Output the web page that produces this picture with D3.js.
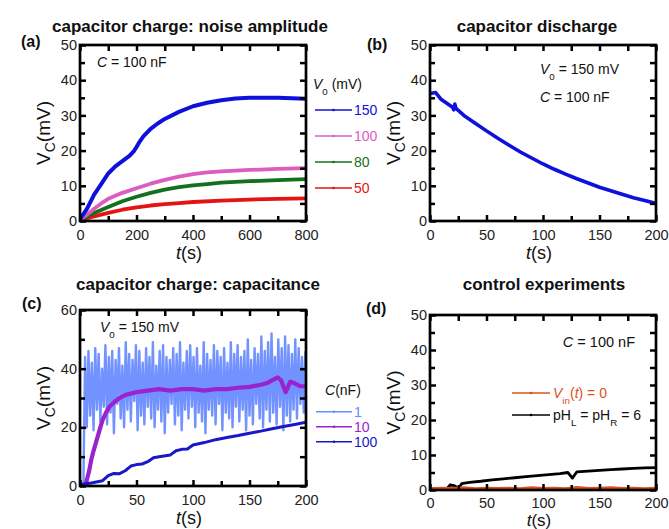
<!DOCTYPE html>
<html><head><meta charset="utf-8">
<script src="https://cdn.jsdelivr.net/npm/d3@7"></script>
<style>
body{margin:0;background:#fff}
svg{font-family:"Liberation Sans",Arial,Helvetica,sans-serif}
</style></head><body>
<svg id="chart" width="669" height="529"></svg>
<script>
// ---------- DATA ----------
// (a) capacitor charge: noise amplitude, C = 100 nF
const aT150 = [0,25,50,75,100,125,150,175,190,200,210,225,250,275,300,350,400,450,500,550,600,650,700,750,800];
const aV150 = [0.5,3.5,7.5,10.5,13.5,15.5,17,18.5,19.8,21,22.4,24.1,26.2,27.7,29,31,32.6,33.6,34.3,34.8,35,35,35,34.9,34.7];
const aT100 = [0,25,50,75,100,150,200,250,300,350,400,450,500,600,700,800];
const aV100 = [0.5,1.8,3.5,5,6.3,8,9.3,10.6,11.7,12.6,13.3,13.8,14.1,14.5,14.8,15];
const aT80  = [0,50,100,150,200,250,300,350,400,450,500,600,700,800];
const aV80  = [0.3,2.3,4,5.6,6.9,8,8.9,9.6,10.1,10.5,10.9,11.3,11.6,11.9];
const aT50  = [0,50,100,150,200,250,300,350,400,500,600,700,800];
const aV50  = [0.3,1.3,2.3,3.2,3.9,4.4,4.8,5.1,5.4,5.8,6.1,6.3,6.4];
const aLegend = ["150","100","80","50"];

// (b) capacitor discharge
const bT = [0,5,10,20,21,22,23,30,40,50,60,70,80,90,100,110,120,130,140,150,160,170,180,190,200];
const bV = [36.2,36.5,34.5,32.3,31.6,33.2,32.0,30,27.8,25.6,23.5,21.5,19.6,17.9,16.2,14.7,13.3,12,10.8,9.6,8.6,7.6,6.6,5.8,5.0];

// (c) capacitor charge: capacitance, V0 = 150 mV
const cStep1 = 1.5; // sampling interval (s) of the 1 nF trace
const cV1 = [0,0,0,44,20,46,24,42,19,47,26,45,
  22,40,27,48,21,44,25,46,18,43,
  28,47,23,41,20,49,26,45,22,43,
  29,48,19,46,24,42,21,47,27,44,
  23,49,20,41,26,46,22,48,18,44,
  25,43,28,47,21,45,24,49,19,42,
  26,46,23,48,27,44,20,47,25,41,
  22,49,18,45,26,43,24,48,21,46,
  28,44,19,47,25,42,23,49,20,45,
  27,48,22,44,26,46,19,50,24,43,
  21,47,28,45,23,51,20,46,26,49,
  22,52,25,44,21,50,27,47,19,51,
  24,48,22,45,26,50,23,47,28,44,
  25,46];
const cT10 = [0,3,5,8,10,12,15,18,20,23,26,30,35,40,50,60,70,80,90,100,110,120,130,140,150,160,165,170,175,178,182,186,190,195,200];
const cV10 = [0,0,0.5,5,9,12,16,20,22.5,25,27,28.5,30,31,32,32.5,33,32.5,33,33,32.5,33,33,33.5,33.8,34.5,35,36,37,36,32,35.5,35,34,34];
const cT100 = [0,10,20,25,30,35,40,45,50,55,60,65,70,80,85,90,95,100,110,120,130,140,150,160,170,180,190,200];
const cV100 = [0.5,1,1.8,3.5,4.3,4.2,5.2,6.8,7.3,7.5,8.3,9.6,10,10.6,12,12.5,12.6,14,14.8,15.8,16.5,17.2,18,18.7,19.5,20.3,21,21.7];
const cLegend = ["1","10","100"];

// (d) control experiments
const dTblack = [0,10,15,18,22,25,28,35,45,55,65,75,85,95,105,115,122,126,130,140,150,160,170,180,190,200];
const dVblack = [0.3,0.3,0.4,1.5,1.2,0.3,1.8,2.2,2.5,2.9,3.2,3.5,3.8,4.1,4.4,4.7,5,3.4,5.2,5.4,5.6,5.8,6,6.2,6.3,6.4];
const dTorange = [0,10,20,30,40,50,60,70,80,90,100,110,120,130,140,150,160,170,180,190,200];
const dVorange = [0.3,0.5,0.4,0.6,0.3,0.5,0.4,0.5,0.3,0.6,0.4,0.5,0.3,0.7,0.4,0.5,0.6,0.4,0.5,0.3,0.5];

// ---------- DRAWING ----------
const svg = d3.select("#chart");
const FONT = '"Liberation Sans",Arial,Helvetica,sans-serif';
let clipId = 0;

function zip(t, v){ return t.map((d,i)=>[d, v[i]]); }

function panel(cfg){
  const x = d3.scaleLinear().domain(cfg.xd).range([cfg.l, cfg.r]);
  const y = d3.scaleLinear().domain(cfg.yd).range([cfg.b, cfg.t]);
  const g = svg.append("g");
  const id = "clip" + (clipId++);
  g.append("clipPath").attr("id", id).append("rect")
    .attr("x", cfg.l).attr("y", cfg.t).attr("width", cfg.r-cfg.l).attr("height", cfg.b-cfg.t);
  const dg = g.append("g").attr("clip-path", `url(#${id})`);
  const line = d3.line().x(d=>x(d[0])).y(d=>y(d[1]));
  cfg.series.forEach(s=>{
    dg.append("path").datum(s.data).attr("d", line)
      .attr("fill","none").attr("stroke", s.color).attr("stroke-width", s.w)
      .attr("stroke-opacity", s.op || 1).attr("stroke-linejoin","round");
  });
  const TS = 6;
  function style(sel, labels){
    sel.select(".domain").remove();
    sel.selectAll(".tick line").attr("stroke","#000").attr("stroke-width",2.5);
    sel.attr("font-family", FONT).attr("font-size", 14.5);
    sel.selectAll(".tick text").attr("fill","#222");
    if(!labels) sel.selectAll(".tick text").remove();
  }
  // bottom
  g.append("g").attr("transform",`translate(0,${cfg.b})`)
    .call(d3.axisBottom(x).tickValues(cfg.xMaj).tickSize(-TS).tickPadding(cfg.xPad||9).tickFormat(d3.format("d")))
    .call(s=>style(s,true));
  g.append("g").attr("transform",`translate(0,${cfg.b})`)
    .call(d3.axisBottom(x).tickValues(cfg.xMin).tickSize(-TS+1).tickFormat(""))
    .call(s=>style(s,false));
  // top
  g.append("g").attr("transform",`translate(0,${cfg.t})`)
    .call(d3.axisTop(x).tickValues(cfg.xMaj.concat(cfg.xMin)).tickSize(-TS).tickFormat(""))
    .call(s=>style(s,false));
  // left
  g.append("g").attr("transform",`translate(${cfg.l},0)`)
    .call(d3.axisLeft(y).tickValues(cfg.yMaj).tickSize(-TS).tickPadding(3).tickFormat(d3.format("d")))
    .call(s=>style(s,true));
  g.append("g").attr("transform",`translate(${cfg.l},0)`)
    .call(d3.axisLeft(y).tickValues(cfg.yMin).tickSize(-TS+1).tickFormat(""))
    .call(s=>style(s,false));
  // right
  g.append("g").attr("transform",`translate(${cfg.r},0)`)
    .call(d3.axisRight(y).tickValues(cfg.yMaj.concat(cfg.yMin)).tickSize(-TS).tickFormat(""))
    .call(s=>style(s,false));
  // frame
  g.append("rect").attr("x",cfg.l).attr("y",cfg.t).attr("width",cfg.r-cfg.l).attr("height",cfg.b-cfg.t)
    .attr("fill","none").attr("stroke","#000").attr("stroke-width",2.7);

  // title
  svg.append("text").attr("x", cfg.titleX).attr("y", cfg.titleY).attr("text-anchor","middle")
    .attr("font-size",17).attr("font-weight","bold").attr("fill","#111").text(cfg.title);
  svg.append("text").attr("x", cfg.labX).attr("y", cfg.labY)
    .attr("font-size",16).attr("font-weight","bold").attr("fill","#111").text(cfg.lab);
  // y label
  const yl = svg.append("text").attr("transform",`translate(${cfg.l-30},${(cfg.t+cfg.b)/2}) rotate(-90)`)
    .attr("text-anchor","middle").attr("font-size",19).attr("fill","#111");
  yl.append("tspan").text("V");
  yl.append("tspan").attr("font-size",14).attr("dy",5).text("C");
  yl.append("tspan").attr("dy",-5).text("(mV)");
  // x label
  const xl = svg.append("text").attr("x",(cfg.l+cfg.r)/2-4).attr("y",cfg.xlY)
    .attr("text-anchor","middle").attr("font-size",cfg.xlSize||18).attr("fill","#111");
  xl.append("tspan").attr("font-style","italic").text("t");
  xl.append("tspan").text("(s)");
  return {x,y};
}

function subText(x, y, parts, opts){
  const t = svg.append("text").attr("x",x).attr("y",y).attr("font-size",opts.size||14)
    .attr("fill",opts.color||"#111");
  if(opts.anchor) t.attr("text-anchor",opts.anchor);
  let cur = 0;
  parts.forEach(p=>{
    const ts = t.append("tspan").text(p.s);
    if(p.i) ts.attr("font-style","italic");
    const target = p.sub ? 6 : 0;
    if(target!==cur){ ts.attr("dy", target-cur); cur = target; }
    if(p.sub) ts.attr("font-size",(opts.size||14)*0.7);
  });
  return t;
}

function legendItem(x1, x2, y, color, label, lx){
  svg.append("line").attr("x1",x1).attr("x2",x2).attr("y1",y).attr("y2",y)
    .attr("stroke",color).attr("stroke-width",1.5);
  svg.append("circle").attr("cx",(x1+x2)/2).attr("cy",y).attr("r",1.3).attr("fill",color);
  if(label!==null) svg.append("text").attr("x",lx).attr("y",y).attr("dy","0.35em")
    .attr("font-size",14).attr("fill",color).text(label);
}

const COL = {b150:"#1010dc", p100:"#dd5cbf", g80:"#13701f", r50:"#e41414",
  lb:"#6a8cff", pu:"#9a22cf", db:"#1818c8", or:"#e0501c", bk:"#000"};

// Panel (a)
panel({l:80,r:306,t:45,b:221,xd:[0,800],yd:[0,50],
  xMaj:[0,200,400,600,800],xMin:[100,300,500,700],
  yMaj:[0,10,20,30,40,50],yMin:[5,15,25,35,45],
  title:"capacitor charge: noise amplitude",titleX:190,titleY:32,lab:"(a)",labX:21,labY:47,xlY:259,
  series:[
    {data:zip(aT50,aV50),color:COL.r50,w:3.8},
    {data:zip(aT80,aV80),color:COL.g80,w:3.8},
    {data:zip(aT100,aV100),color:COL.p100,w:3.8},
    {data:zip(aT150,aV150),color:COL.b150,w:4}
  ]});
subText(97,67,[{s:"C",i:true},{s:" = 100 nF"}],{size:14});
subText(313,89,[{s:"V",i:true},{s:"0",sub:true},{s:" (mV)"}],{size:14});
[COL.b150,COL.p100,COL.g80,COL.r50].forEach((c,i)=>{
  legendItem(315,352,[110,136,162,188][i],c,aLegend[i],354);
});

// Panel (b)
panel({l:430,r:656,t:45,b:221,xd:[0,200],yd:[0,50],
  xMaj:[0,50,100,150,200],xMin:[25,75,125,175],
  yMaj:[0,10,20,30,40,50],yMin:[5,15,25,35,45],
  title:"capacitor discharge",titleX:537,titleY:32,lab:"(b)",labX:367,labY:50,xlY:259,
  series:[{data:zip(bT,bV),color:COL.b150,w:3.6}]});
subText(540,74,[{s:"V",i:true},{s:"0",sub:true},{s:" = 150 mV"}],{size:14});
subText(540,102,[{s:"C",i:true},{s:" = 100 nF"}],{size:14});

// Panel (c)
panel({l:80,r:306,t:310,b:486,xd:[0,200],yd:[0,60],
  xMaj:[0,50,100,150,200],xMin:[25,75,125,175],
  yMaj:[0,20,40,60],yMin:[10,30,50],
  title:"capacitor charge: capacitance",titleX:198,titleY:290,lab:"(c)",labX:22,labY:309,xlY:524,
  series:[
    {data:cV1.map((v,i)=>[i*cStep1,v]),color:COL.lb,w:2.4,op:0.95},
    {data:zip(cT10,cV10),color:COL.pu,w:4.2},
    {data:zip(cT100,cV100),color:COL.db,w:3}
  ]});
subText(100,332,[{s:"V",i:true},{s:"0",sub:true},{s:" = 150 mV"}],{size:14});
subText(325,395,[{s:"C",i:true},{s:"(nF)"}],{size:14});
[COL.lb,COL.pu,COL.db].forEach((c,i)=>{
  legendItem(316,352,[411.7,426.7,441.7][i],c,cLegend[i],354);
});

// Panel (d)
panel({l:430,r:656,t:315,b:490,xd:[0,200],yd:[0,50],
  xMaj:[0,50,100,150,200],xMin:[25,75,125,175],
  yMaj:[0,10,20,30,40,50],yMin:[5,15,25,35,45],xPad:8,
  title:"control experiments",titleX:544,titleY:290,lab:"(d)",labX:366,labY:314,xlY:526,xlSize:17,
  series:[
    {data:zip(dTblack,dVblack),color:COL.bk,w:2.8},
    {data:zip(dTorange,dVorange),color:COL.or,w:3.2}
  ]});
subText(635,347,[{s:"C",i:true},{s:" = 100 nF"}],{size:14.5,anchor:"end"});
legendItem(512,550,393,COL.or,null,0);
subText(553,398,[{s:"V",i:true},{s:"in",sub:true},{s:"("},{s:"t",i:true},{s:") = 0"}],{size:14,color:COL.or});
legendItem(512,550,415,COL.bk,null,0);
subText(553,420,[{s:"pH"},{s:"L",sub:true},{s:" = pH"},{s:"R",sub:true},{s:" = 6"}],{size:14,color:"#111"});
</script>
</body></html>
